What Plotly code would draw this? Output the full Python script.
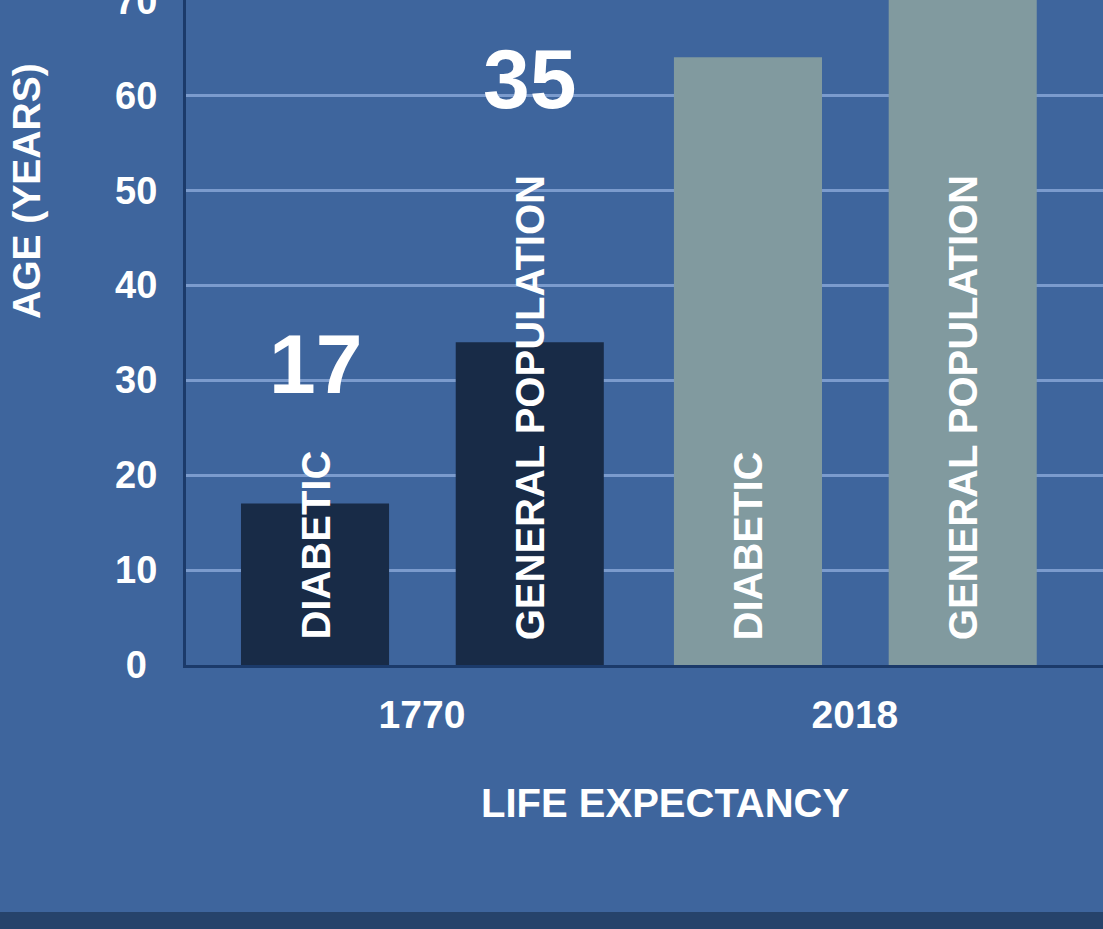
import plotly.graph_objects as go

# ---- data ----
years = ["1770", "2018"]
series_names = ["DIABETIC", "GENERAL POPULATION"]
diabetic = [17, 64]
general = [34, 79]
year_colors = ["#182b47", "#819a9f"]
value_labels_1770 = ["17", "35"]
y_ticks = [0, 10, 20, 30, 40, 50, 60, 70]
y_tick_text = ["0\u00a0", "10", "20", "30", "40", "50", "60", "70"]

BG = "#3e659d"
GRID = "#7b9bcd"
AXIS = "#1b3a6a"
WHITE = "#ffffff"
FONT = "Liberation Sans, Arial, sans-serif"

bar_w = 0.342
offsets = [-0.418, 0.078]

fig = go.Figure()
for vals, off, name in zip([diabetic, general], offsets, series_names):
    fig.add_trace(go.Bar(
        x=years, y=vals, name=name,
        marker=dict(color=year_colors, line=dict(width=0)),
        width=bar_w, offset=off, showlegend=False,
        hoverinfo="x+y+name",
    ))

annotations = []
# rotated labels inside bars
for si, name in enumerate(series_names):
    for yi, yr in enumerate(years):
        annotations.append(dict(
            x=yi + offsets[si] + bar_w / 2, y=0, xref="x", yref="y",
            text=name, textangle=-90, showarrow=False,
            xanchor="center", yanchor="bottom", yshift=23,
            font=dict(family=FONT, size=40, color=WHITE, weight="bold"),
        ))

# big value labels for 1770
label_y = [31.7, 61.7]
for si, (lab, ly) in enumerate(zip(value_labels_1770, label_y)):
    annotations.append(dict(
        x=0 + offsets[si] + bar_w / 2, y=ly, xref="x", yref="y",
        text=lab, showarrow=False, xanchor="center", yanchor="middle",
        font=dict(family=FONT, size=84, color=WHITE, weight="bold"),
    ))

# axis titles
annotations.append(dict(
    x=0, y=(665 - 191) / 665, xref="paper", yref="paper", xshift=-159,
    text="AGE (YEARS)", textangle=-90, showarrow=False,
    xanchor="center", yanchor="middle",
    font=dict(family=FONT, size=39, color=WHITE, weight="bold"),
))
annotations.append(dict(
    x=(665 - 186) / 917, y=0, xref="paper", yref="paper", yshift=-138,
    text="LIFE EXPECTANCY", showarrow=False,
    xanchor="center", yanchor="middle",
    font=dict(family=FONT, size=40, color=WHITE, weight="bold"),
))

fig.update_layout(
    width=1103, height=929,
    margin=dict(l=186, r=0, t=0, b=264, pad=0, autoexpand=False),
    paper_bgcolor=BG, plot_bgcolor=BG,
    barmode="overlay",
    annotations=annotations,
    shapes=[dict(
        type="rect", xref="paper", yref="paper",
        x0=-0.3, x1=1.1, y0=(665 - 935) / 665, y1=(665 - 912) / 665,
        fillcolor="#26436b", line=dict(width=0), layer="above",
    )],
    xaxis=dict(
        type="category", range=[-0.545, 1.573], automargin=False,
        showgrid=False, zeroline=False,
        showline=True, linecolor=AXIS, linewidth=3,
        ticks="", ticklabelstandoff=13,
        tickfont=dict(family=FONT, size=39, color=WHITE, weight="bold"),
    ),
    yaxis=dict(
        range=[0, 70.03], tickvals=y_ticks, ticktext=y_tick_text,
        automargin=False,
        showgrid=True, gridcolor=GRID, gridwidth=2.5,
        zeroline=False, showline=True, linecolor=AXIS, linewidth=3,
        ticks="", ticklabelstandoff=18, ticklabeloverflow="allow",
        tickfont=dict(family=FONT, size=38, color=WHITE, weight="bold"),
    ),
)

fig.write_html(
    "out.html",
    config={"displayModeBar": False},
    post_script="document.body.style.margin='0';document.body.style.padding='0';",
)
